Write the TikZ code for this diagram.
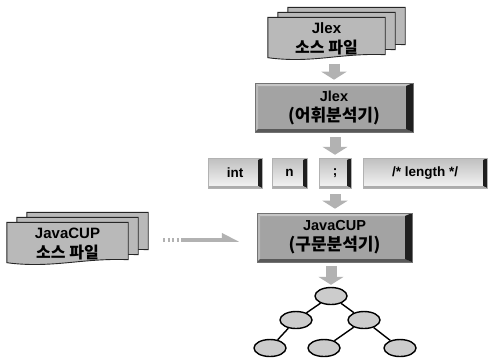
\documentclass[tikz,border=0pt]{standalone}
\usepackage{fontspec}
\setmainfont{Liberation Sans}
\newfontfamily\kr{Noto Sans CJK KR}
\usetikzlibrary{arrows.meta,calc,backgrounds,shapes.geometric}

\newcommand\latA{\fontsize{15}{21}\selectfont\bfseries}
\newcommand\korA{\fontsize{16}{21}\selectfont\kr\bfseries}
\newcommand\latB{\fontsize{14.5}{20}\selectfont\bfseries}
\newcommand\korB{\fontsize{17}{20}\selectfont\kr\bfseries}

\tikzset{
  sheet/.style={fill=gray!55, draw=black!85, line width=0.9pt},
  srctext/.style={minimum width=#1, minimum height=43pt, inner sep=0pt, align=center,
    font=\fontsize{15}{20}\selectfont},
  procbox/.style={minimum width=#1, minimum height=49pt, inner sep=0pt, align=center,
    fill=gray!72, draw=black!55, line width=0.6pt, font=\fontsize{15}{20}\selectfont,
    path picture={
      \fill[gray!45] (path picture bounding box.north west) -- (path picture bounding box.north east)
        -- ([xshift=-7pt,yshift=-3pt]path picture bounding box.north east)
        -- ([xshift=3pt,yshift=-3pt]path picture bounding box.north west) -- cycle;
      \fill[gray!55] (path picture bounding box.north west) -- (path picture bounding box.south west)
        -- ([xshift=3pt,yshift=3pt]path picture bounding box.south west)
        -- ([xshift=3pt,yshift=-3pt]path picture bounding box.north west) -- cycle;
      \fill[black!65] (path picture bounding box.south west) -- (path picture bounding box.south east)
        -- ([xshift=-7pt,yshift=3pt]path picture bounding box.south east)
        -- ([xshift=3pt,yshift=3pt]path picture bounding box.south west) -- cycle;
      \fill[black!88] (path picture bounding box.north east) -- (path picture bounding box.south east)
        -- ([xshift=-7pt,yshift=3pt]path picture bounding box.south east)
        -- ([xshift=-7pt,yshift=-3pt]path picture bounding box.north east) -- cycle;
    }},
  token/.style={minimum width=#1, minimum height=30pt, inner sep=0pt, align=center,
    top color=gray!50, bottom color=gray!8, draw=gray!60, line width=0.5pt,
    font=\fontsize{13.5}{15}\selectfont\bfseries,
    path picture={
      \fill[black!88] (path picture bounding box.north east) -- (path picture bounding box.south east)
        -- ([xshift=-4pt,yshift=2pt]path picture bounding box.south east)
        -- ([xshift=-4pt,yshift=-2pt]path picture bounding box.north east) -- cycle;
      \fill[gray!65] (path picture bounding box.south west) -- (path picture bounding box.south east)
        -- ([xshift=-4pt,yshift=2pt]path picture bounding box.south east)
        -- ([yshift=2pt]path picture bounding box.south west) -- cycle;
    }},
  blockarrow/.style={line width=11pt, draw=gray!60, -{Triangle[width=25pt,length=8pt]}},
  cuparrow/.style={line width=4pt, draw=gray!60, -{Triangle[width=13pt,length=14pt,harpoon]},
    dash pattern=on 2pt off 2.5pt on 2pt off 2.5pt on 2pt off 2.5pt on 2pt off 2.5pt on 200pt off 1pt},
  treenode/.style={ellipse, minimum width=32pt, minimum height=17pt, inner sep=0pt,
    fill=gray!40, draw=black, line width=1.4pt},
  treeedge/.style={line width=1.4pt, draw=black},
}

\newcommand\docsheets[1]{%
  \foreach \dx/\dy in {20/10,10/5,0/0}{%
    \draw[sheet] ([xshift=\dx pt,yshift=\dy pt]#1.north west)
      -- ([xshift=\dx pt,yshift=\dy pt]#1.north east)
      -- ([xshift=\dx pt,yshift=\dy pt+6pt]#1.south east)
      .. controls ([xshift=\dx pt-45pt,yshift=\dy pt+8pt]#1.south east)
         and ([xshift=\dx pt+45pt,yshift=\dy pt-3pt]#1.south west)
      .. ([xshift=\dx pt,yshift=\dy pt+3pt]#1.south west) -- cycle;
  }%
}

\begin{document}
\begin{tikzpicture}[x=1pt,y=-1pt]
\useasboundingbox (0,0) rectangle (497,360);

% source files
\node[srctext=117pt] (jsrc) at (326.5,39) {{\latA Jlex}\\{\korA 소스 파일}};
\node[srctext=121pt] (cupsrc) at (67.5,244) {{\latA JavaCUP}\\{\korA 소스 파일}};
\begin{scope}[on background layer]
  \docsheets{jsrc}
  \docsheets{cupsrc}
\end{scope}

% processors
\node[procbox=158pt] (jlex) at (334,107.5) {{\latB Jlex}\\{\korB(어휘분석기)}};
\node[procbox=155pt] (cup) at (334.5,237.5) {{\latB JavaCUP}\\{\korB(구문분석기)}};

% tokens
\node[token=54pt] (tint) at (235,173) {int};
\node[token=35pt] (tn) at (289.5,173) {n};
\node[token=32pt] (tsemi) at (335,173) {;};
\node[token=124pt] (tlen) at (425,173) {/* length */};

% tree
\node[treenode] (r) at (331,296) {};
\node[treenode] (a) at (296,320) {};
\node[treenode] (b) at (364,320) {};
\node[treenode] (c) at (270,348) {};
\node[treenode] (d) at (324,348) {};
\node[treenode] (e) at (400,348) {};
\draw[treeedge] (r) -- (a);
\draw[treeedge] (r) -- (b);
\draw[treeedge] (a) -- (c);
\draw[treeedge] (b) -- (d);
\draw[treeedge] (b) -- (e);

% arrows
\draw[blockarrow, shorten <=3pt, shorten >=3pt] (jlex.north |- jsrc.south) -- (jlex.north);
\draw[blockarrow, shorten <=5pt, shorten >=3pt] (tsemi.north |- jlex.south) -- (tsemi.north);
\draw[blockarrow, shorten <=6pt, shorten >=4pt] (tsemi.south) -- (tsemi.south |- cup.north);
\draw[blockarrow, shorten <=4pt, shorten >=2pt] (r.north |- cup.south) -- (r.north);
\draw[cuparrow, shorten <=35pt, shorten >=17pt] ([yshift=4pt]cupsrc.east) -- ([yshift=4pt]cupsrc.east -| cup.west);
\end{tikzpicture}
\end{document}
